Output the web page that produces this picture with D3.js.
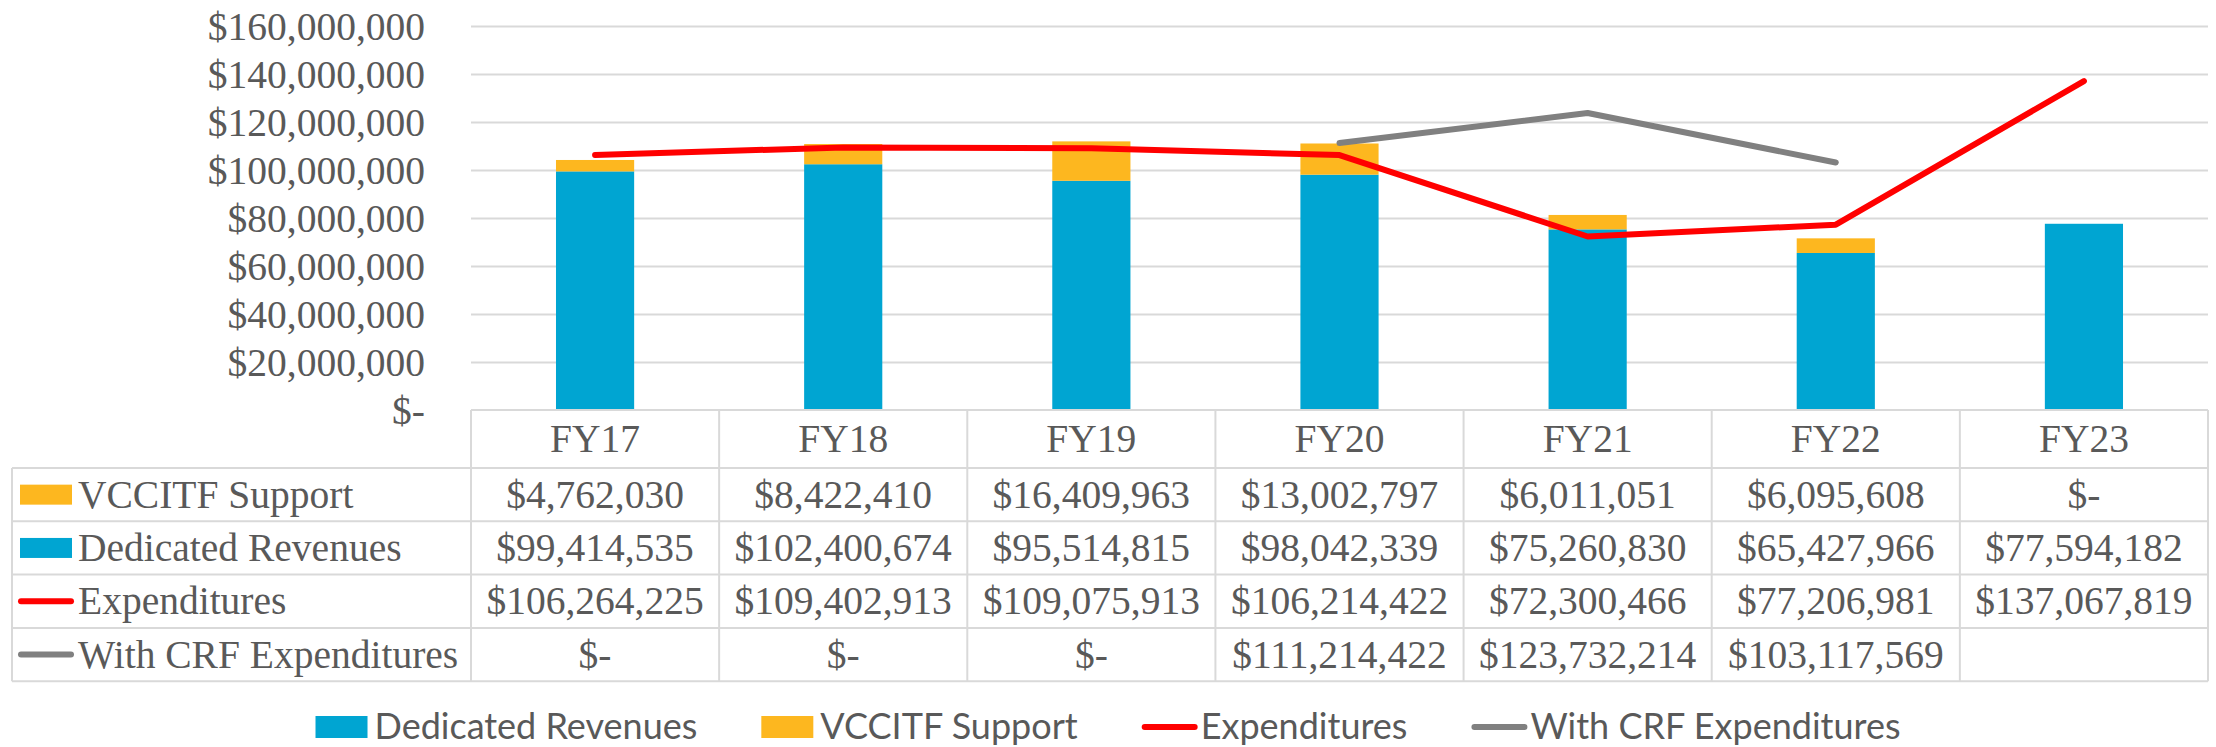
<!DOCTYPE html>
<html>
<head>
<meta charset="utf-8">
<script src="https://cdn.jsdelivr.net/npm/d3@7"></script>
<style>
  body { margin: 0; background: #fff; }
  .serif { font-family: "Liberation Serif", "Times New Roman", serif; fill: #595959; }
  .sans { font-family: Lato, "Open Sans", sans-serif; fill: #595959; }
  .grid line { stroke: #d9d9d9; stroke-width: 2; }
  .grid path { display: none; }
</style>
</head>
<body>
<svg id="chart" width="2216" height="747"></svg>
<script>
// data
const years = ['FY17', 'FY18', 'FY19', 'FY20', 'FY21', 'FY22', 'FY23'];
const vccitf = [4762030, 8422410, 16409963, 13002797, 6011051, 6095608, 0];
const dedicated = [99414535, 102400674, 95514815, 98042339, 75260830, 65427966, 77594182];
const expenditures = [106264225, 109402913, 109075913, 106214422, 72300466, 77206981, 137067819];
const withCrf = [0, 0, 0, 111214422, 123732214, 103117569, null];
const yTicks = [0, 20000000, 40000000, 60000000, 80000000, 100000000, 120000000, 140000000, 160000000];

const blue = '#00a5d2', orange = '#fdb71f', red = '#ff0000', gray = '#808080';
const fontSize = 39.5;

const plotLeft = 471, plotRight = 2208, plotTop = 26, base = 410;
const headerH = 58, rowH = 53.3, tableLeft = 12;

const svg = d3.select('#chart');

const x = d3.scaleBand().domain(years).range([plotLeft, plotRight]);
const y = d3.scaleLinear().domain([0, 160000000]).range([base, plotTop]);
const bw = x.bandwidth() * 0.315;

const money = d => d == null ? '' : (d === 0 ? '$-' : '$' + d3.format(',')(d));

// grid
svg.append('g')
    .attr('class', 'grid')
    .attr('transform', `translate(${plotLeft},0)`)
    .call(d3.axisLeft(y).tickValues(yTicks.slice(1)).tickSize(-(plotRight - plotLeft)).tickFormat(''));

// y labels
const yAxis = svg.append('g')
    .attr('transform', `translate(${plotLeft},0)`)
    .call(d3.axisLeft(y).tickValues(yTicks).tickSize(0).tickPadding(46).tickFormat(money));
yAxis.select('.domain').remove();
yAxis.attr('font-family', null).attr('font-size', null);
yAxis.selectAll('text')
    .attr('class', 'serif')
    .attr('font-size', fontSize)
    .attr('dy', null)
    .attr('dominant-baseline', 'central')
    .style('fill', '#595959');

// stacked bars
const stack = years.map((yr, i) => ({ yr, ded: dedicated[i], sup: vccitf[i] }));
svg.append('g').selectAll('rect')
    .data(stack)
    .join('rect')
    .attr('x', d => x(d.yr) + (x.bandwidth() - bw) / 2)
    .attr('y', d => y(d.ded))
    .attr('width', bw)
    .attr('height', d => base - y(d.ded))
    .attr('fill', blue);
svg.append('g').selectAll('rect')
    .data(stack.filter(d => d.sup > 0))
    .join('rect')
    .attr('x', d => x(d.yr) + (x.bandwidth() - bw) / 2)
    .attr('y', d => y(d.ded + d.sup))
    .attr('width', bw)
    .attr('height', d => y(d.ded) - y(d.ded + d.sup))
    .attr('fill', orange);

// lines
const line = d3.line()
    .defined(d => d.v != null && d.v > 0)
    .x(d => x(d.yr) + x.bandwidth() / 2)
    .y(d => y(d.v));

svg.append('path')
    .datum(years.map((yr, i) => ({ yr, v: withCrf[i] })))
    .attr('d', line)
    .attr('fill', 'none')
    .attr('stroke', gray)
    .attr('stroke-width', 6)
    .attr('stroke-linecap', 'round')
    .attr('stroke-linejoin', 'round');

svg.append('path')
    .datum(years.map((yr, i) => ({ yr, v: expenditures[i] })))
    .attr('d', line)
    .attr('fill', 'none')
    .attr('stroke', red)
    .attr('stroke-width', 6)
    .attr('stroke-linecap', 'round')
    .attr('stroke-linejoin', 'round');

// data table
const rows = [
    { name: 'VCCITF Support', values: vccitf, color: orange, key: 'rect' },
    { name: 'Dedicated Revenues', values: dedicated, color: blue, key: 'rect' },
    { name: 'Expenditures', values: expenditures, color: red, key: 'line' },
    { name: 'With CRF Expenditures', values: withCrf, color: gray, key: 'line' }
];

const table = svg.append('g');
const rowTop = i => base + headerH + i * rowH;
const tableBottom = rowTop(rows.length);

function hline(x1, x2, yy) {
    table.append('line').attr('x1', x1).attr('x2', x2).attr('y1', yy).attr('y2', yy)
        .attr('stroke', '#d9d9d9').attr('stroke-width', 2);
}
function vline(xx, y1, y2) {
    table.append('line').attr('x1', xx).attr('x2', xx).attr('y1', y1).attr('y2', y2)
        .attr('stroke', '#d9d9d9').attr('stroke-width', 2);
}

hline(plotLeft, plotRight, base);
for (let i = 0; i <= rows.length; i++) hline(tableLeft, plotRight, rowTop(i));
vline(tableLeft, rowTop(0), tableBottom);
years.forEach(yr => vline(x(yr), base, tableBottom));
vline(plotRight, base, tableBottom);

// header
table.selectAll('.head')
    .data(years)
    .join('text')
    .attr('class', 'serif')
    .attr('font-size', fontSize)
    .attr('text-anchor', 'middle')
    .attr('x', d => x(d) + x.bandwidth() / 2)
    .attr('y', base + headerH / 2 + 13)
    .text(d => d);

rows.forEach((r, i) => {
    const cy = rowTop(i) + rowH / 2;
    if (r.key === 'rect') {
        table.append('rect').attr('x', 20).attr('y', cy - 10).attr('width', 52).attr('height', 20).attr('fill', r.color);
    } else {
        table.append('line').attr('x1', 21).attr('x2', 71).attr('y1', cy).attr('y2', cy)
            .attr('stroke', r.color).attr('stroke-width', 6).attr('stroke-linecap', 'round');
    }
    table.append('text')
        .attr('class', 'serif')
        .attr('font-size', fontSize)
        .attr('x', 78)
        .attr('y', cy + 13)
        .text(r.name);
    table.selectAll(null)
        .data(years.map((yr, j) => ({ yr, v: r.values[j] })))
        .join('text')
        .attr('class', 'serif')
        .attr('font-size', fontSize)
        .attr('text-anchor', 'middle')
        .attr('x', d => x(d.yr) + x.bandwidth() / 2)
        .attr('y', cy + 13)
        .text(d => money(d.v));
});

// legend
const legendItems = [
    { name: 'Dedicated Revenues', color: blue, key: 'rect' },
    { name: 'VCCITF Support', color: orange, key: 'rect' },
    { name: 'Expenditures', color: red, key: 'line' },
    { name: 'With CRF Expenditures', color: gray, key: 'line' }
];
const legend = svg.append('g');
const ly = 727;
const groups = legendItems.map(it => {
    const g = legend.append('g');
    if (it.key === 'rect') {
        g.append('rect').attr('x', 0).attr('y', ly - 11).attr('width', 52).attr('height', 22).attr('fill', it.color);
    } else {
        g.append('line').attr('x1', 3).attr('x2', 53).attr('y1', ly).attr('y2', ly)
            .attr('stroke', it.color).attr('stroke-width', 6).attr('stroke-linecap', 'round');
    }
    const t = g.append('text')
        .attr('class', 'sans')
        .attr('font-size', 36)
        .attr('x', 59)
        .attr('y', ly + 12)
        .text(it.name);
    return { g, w: 59 + t.node().getComputedTextLength() };
});
const gap = 64;
const total = d3.sum(groups, d => d.w) + gap * (groups.length - 1);
let lx = 1108 - total / 2;
groups.forEach(d => {
    d.g.attr('transform', `translate(${lx},0)`);
    lx += d.w + gap;
});
</script>
</body>
</html>
